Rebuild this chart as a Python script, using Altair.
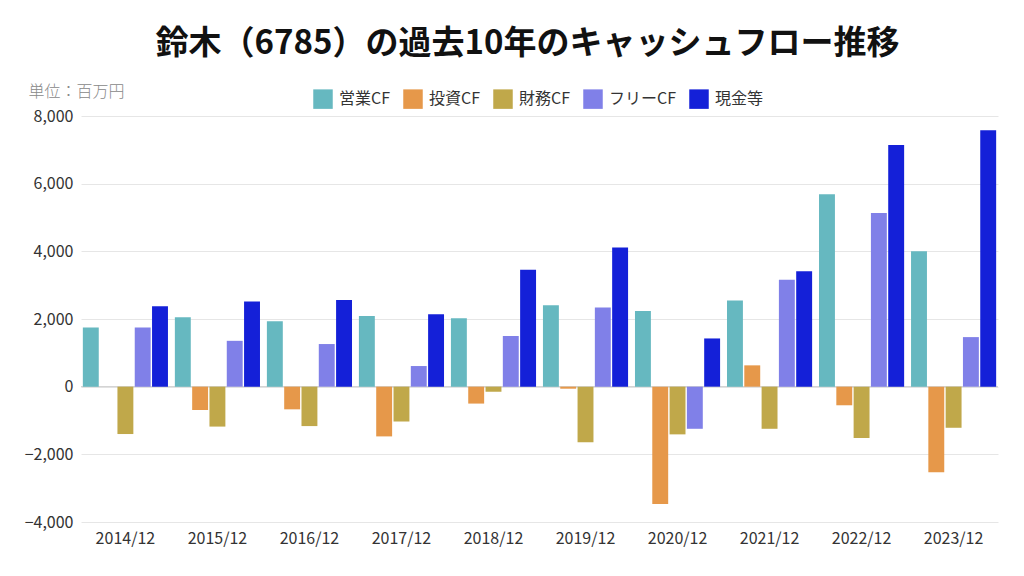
import altair as alt
import pandas as pd

years = ["2014/12", "2015/12", "2016/12", "2017/12", "2018/12",
         "2019/12", "2020/12", "2021/12", "2022/12", "2023/12"]
series_names = ["営業CF", "投資CF", "財務CF", "フリーCF", "現金等"]
eigyo = [1750, 2050, 1935, 2090, 2020, 2405, 2240, 2545, 5685, 4005]
toshi = [0, -690, -670, -1470, -500, -60, -3465, 630, -550, -2530]
zaimu = [-1400, -1180, -1165, -1030, -150, -1640, -1410, -1245, -1520, -1215]
free = [1750, 1355, 1260, 610, 1500, 2340, -1245, 3160, 5135, 1465]
genkin = [2375, 2515, 2560, 2140, 3455, 4115, 1425, 3415, 7145, 7580]
colors = ["#66B8C0", "#E6984A", "#C0A84A", "#8080E8", "#1420D8"]

rows = []
for name, vals in zip(series_names, [eigyo, toshi, zaimu, free, genkin]):
    for y, v in zip(years, vals):
        rows.append({"year": y, "series": name, "value": v})
df = pd.DataFrame(rows)

FONT = "Noto Sans CJK JP"

bars = alt.Chart(df).mark_bar().encode(
    x=alt.X("year:N", sort=years,
            scale=alt.Scale(paddingInner=0.075, paddingOuter=0.02),
            axis=alt.Axis(title=None, labelAngle=0, labelFontSize=16, labelColor="#333",
                          labelFont=FONT, ticks=False, domain=False, grid=False, labelPadding=8)),
    xOffset=alt.XOffset("series:N", sort=series_names, scale=alt.Scale(paddingInner=0.08)),
    y=alt.Y("value:Q", scale=alt.Scale(domain=[-4000, 8000]),
            axis=alt.Axis(title="単位：百万円", titleAngle=0, titleAlign="left", titleX=-53, titleY=-17,
                          titleFontSize=16, titleFontWeight=300, titleColor="#888", titleFont=FONT,
                          values=[-4000, -2000, 0, 2000, 4000, 6000, 8000], format=",.0f",
                          labelFontSize=16, labelColor="#333", labelFont=FONT,
                          ticks=False, domain=False, gridColor="#e6e6e6", labelPadding=8)),
    color=alt.Color("series:N", sort=series_names,
                    scale=alt.Scale(domain=series_names, range=colors),
                    legend=alt.Legend(title=None, orient="none", direction="horizontal",
                                      legendX=232, legendY=-27, labelFontSize=16, labelFont=FONT,
                                      labelColor="#333", symbolType="square", symbolSize=380,
                                      symbolStrokeWidth=0, columnPadding=12, labelOffset=6)),
)

zero = alt.Chart(pd.DataFrame({"z": [0]})).mark_rule(color="#cccccc", strokeWidth=1).encode(y="z:Q")

chart = alt.layer(zero, bars).properties(
    width=917, height=406,
    background="white",
    autosize=alt.AutoSizeParams(type="none"),
    padding={"left": 73, "top": 108, "right": 18, "bottom": 46},
    title=alt.TitleParams("鈴木（6785）の過去10年のキャッシュフロー推移", fontSize=33, font=FONT,
                          fontWeight="bold", color="#111", offset=22, anchor="middle", dx=-12),
).configure_view(stroke=None)

chart.save("out.html", embed_options={"renderer": "svg", "actions": False})
